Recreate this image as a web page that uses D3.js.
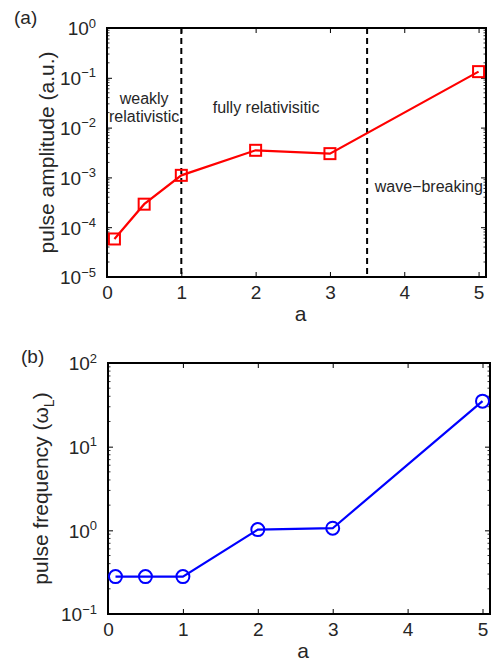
<!DOCTYPE html>
<html>
<head>
<meta charset="utf-8">
<script src="https://cdn.jsdelivr.net/npm/d3@7"></script>
<style>
  body { margin: 0; background: #fff; }
  text { font-family: "Liberation Sans", Arial, sans-serif; fill: #262626; }
</style>
</head>
<body>
<div id="chart"></div>
<script>
// a values (shared by both panels)
var aValues = [0.1, 0.5, 1, 2, 3, 5];
// panel (a): pulse amplitude (a.u.)
var amplitude = [5.8e-5, 2.9e-4, 1.1e-3, 3.5e-3, 3.0e-3, 0.133];
// panel (b): pulse frequency (omega_L)
var frequency = [0.28, 0.28, 0.28, 1.02, 1.06, 35];
// x ticks and regime boundaries
var xTicks = [0, 1, 2, 3, 4, 5];
var regimeLines = [1, 3.5];
var regimeLabels = [
  {lines: ["weakly", "relativistic"], a: 0.5},
  {lines: ["fully relativisitic"], a: 2.14},
  {lines: ["wave\u2212breaking"], a: 4.33}
];

var svg = d3.select("#chart").append("svg")
  .attr("width", 493)
  .attr("height", 662);

function drawPanel(opt) {
  var x = d3.scaleLinear().domain([0, 5.1]).range([opt.left, opt.right]);
  var y = d3.scaleLog().domain(opt.yDomain).range([opt.bottom, opt.top]);

  var g = svg.append("g");

  // major and minor tick values for the log axis
  var lo = Math.round(Math.log10(opt.yDomain[0]));
  var hi = Math.round(Math.log10(opt.yDomain[1]));
  var majors = d3.range(lo, hi + 1).map(e => Math.pow(10, e));
  var minors = [];
  d3.range(lo, hi).forEach(e => {
    for (var k = 2; k <= 9; k++) minors.push(k * Math.pow(10, e));
  });

  // minor ticks, left and right
  g.append("g").selectAll("line").data(minors).enter().append("line")
    .attr("x1", opt.left).attr("x2", opt.left + 2.5)
    .attr("y1", d => y(d)).attr("y2", d => y(d))
    .style("stroke", "#000").style("stroke-width", 0.8);
  g.append("g").selectAll("line").data(minors).enter().append("line")
    .attr("x1", opt.right).attr("x2", opt.right - 2.5)
    .attr("y1", d => y(d)).attr("y2", d => y(d))
    .style("stroke", "#000").style("stroke-width", 0.8);

  // axes (ticks pointing inward)
  var xAxis = d3.axisBottom(x).tickValues(xTicks).tickFormat(d3.format("d"))
    .tickSizeInner(-5).tickSizeOuter(0).tickPadding(9);
  var xAxisTop = d3.axisTop(x).tickValues(xTicks).tickSizeInner(-5).tickSizeOuter(0).tickFormat("");
  var yAxis = d3.axisLeft(y).tickValues(majors).tickSizeInner(-5).tickSizeOuter(0).tickPadding(11);
  var yAxisRight = d3.axisRight(y).tickValues(majors).tickSizeInner(-5).tickSizeOuter(0).tickFormat("");

  var gx = g.append("g").attr("transform", "translate(0," + opt.bottom + ")").call(xAxis);
  g.append("g").attr("transform", "translate(0," + opt.top + ")").call(xAxisTop);
  var gy = g.append("g").attr("transform", "translate(" + opt.left + ",0)").call(yAxis);
  g.append("g").attr("transform", "translate(" + opt.right + ",0)").call(yAxisRight);

  g.selectAll(".domain").remove();
  g.selectAll(".tick line").style("stroke", "#000").style("stroke-width", 1);

  gx.selectAll("text").style("font-size", "19px").style("fill", "#262626");

  // log labels as 10 with superscript exponent
  gy.selectAll(".tick text").each(function(d) {
    var e = Math.round(Math.log10(d));
    var t = d3.select(this).text("").style("font-size", "19px").style("fill", "#262626")
      .attr("dy", "0.36em");
    t.append("tspan").text("10");
    t.append("tspan").attr("dy", "-0.6em").style("font-size", "13px")
      .text(e < 0 ? "\u2212" + (-e) : e);
  });

  // box
  g.append("rect")
    .attr("x", opt.left).attr("y", opt.top)
    .attr("width", opt.right - opt.left).attr("height", opt.bottom - opt.top)
    .style("fill", "none").style("stroke", "#000").style("stroke-width", 2);

  // dashed regime boundaries
  if (opt.regimes) {
    g.append("g").selectAll("line").data(regimeLines).enter().append("line")
      .attr("x1", d => x(d)).attr("x2", d => x(d))
      .attr("y1", opt.top).attr("y2", opt.bottom)
      .style("stroke", "#000").style("stroke-width", 2)
      .style("stroke-dasharray", "6,4");

    var labY = [104, 113, 192];
    regimeLabels.forEach((r, i) => {
      var t = g.append("text")
        .attr("x", x(r.a)).attr("y", labY[i])
        .attr("text-anchor", "middle")
        .style("font-size", "16px");
      r.lines.forEach((s, j) => {
        t.append("tspan").attr("x", x(r.a)).attr("dy", j === 0 ? 0 : 18).text(s);
      });
    });
  }

  // data line and markers
  var pts = aValues.map((a, i) => ({a: a, v: opt.values[i]}));
  var line = d3.line().x(d => x(d.a)).y(d => y(d.v));
  g.append("path").datum(pts)
    .attr("d", line)
    .style("fill", "none").style("stroke", opt.color).style("stroke-width", 2.2);

  if (opt.marker === "square") {
    g.append("g").selectAll("rect").data(pts).enter().append("rect")
      .attr("x", d => x(d.a) - 5.5).attr("y", d => y(d.v) - 5.5)
      .attr("width", 11).attr("height", 11)
      .style("fill", "none").style("stroke", opt.color).style("stroke-width", 2);
  } else {
    g.append("g").selectAll("circle").data(pts).enter().append("circle")
      .attr("cx", d => x(d.a)).attr("cy", d => y(d.v)).attr("r", 6.5)
      .style("fill", "none").style("stroke", opt.color).style("stroke-width", 2);
  }

  // labels
  g.append("text")
    .attr("x", (opt.left + opt.right) / 2 + 4).attr("y", opt.bottom + 44)
    .attr("text-anchor", "middle").style("font-size", "21px").text("a");

  var yl = g.append("text")
    .attr("transform", "translate(" + opt.yLabelX + "," + ((opt.top + opt.bottom) / 2) + ") rotate(-90)")
    .attr("text-anchor", "middle").style("font-size", "21px");
  opt.yLabel(yl);

  g.append("text")
    .attr("x", opt.tagX).attr("y", opt.tagY)
    .style("font-size", "19px").text(opt.tag);
}

drawPanel({
  left: 107, right: 486, top: 28, bottom: 277,
  yDomain: [1e-5, 1],
  values: amplitude,
  color: "#ff0000",
  marker: "square",
  regimes: true,
  tag: "(a)", tagX: 14, tagY: 24,
  yLabelX: 54,
  yLabel: t => t.text("pulse amplitude (a.u.)")
});

drawPanel({
  left: 108, right: 490, top: 363, bottom: 614,
  yDomain: [0.1, 100],
  values: frequency,
  color: "#0000ff",
  marker: "circle",
  regimes: false,
  tag: "(b)", tagX: 21, tagY: 363,
  yLabelX: 48,
  yLabel: t => {
    t.append("tspan").text("pulse frequency (\u03c9");
    t.append("tspan").attr("dy", 6).style("font-size", "14px").text("L");
    t.append("tspan").attr("dy", -6).text(")");
  }
});
</script>
</body>
</html>
